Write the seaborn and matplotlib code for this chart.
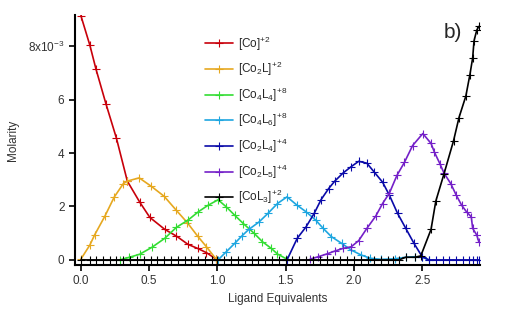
import numpy as np
import pandas as pd
import matplotlib
matplotlib.use("Agg")
import matplotlib.pyplot as plt
import seaborn as sns

# values (x = ligand equivalents, y = molarity in 1e-3 M)
co_x = [0.0, 0.066, 0.11, 0.183, 0.26, 0.34, 0.43, 0.505, 0.615, 0.70, 0.785, 0.855, 0.92, 0.99]
co_y = [9.14, 8.03, 7.15, 5.85, 4.56, 2.95, 2.17, 1.59, 1.14, 0.89, 0.58, 0.43, 0.27, 0.03]

co2l_x = [0.0, 0.066, 0.10, 0.176, 0.244, 0.31, 0.34, 0.427, 0.517, 0.61, 0.695, 0.78, 0.855, 0.92, 0.99]
co2l_y = [0.03, 0.56, 0.93, 1.64, 2.35, 2.85, 2.95, 3.07, 2.75, 2.38, 1.88, 1.39, 0.89, 0.49, 0.03]

co4l4_x = [0.285, 0.35, 0.43, 0.52, 0.615, 0.70, 0.785, 0.86, 0.93, 1.005, 1.066, 1.127, 1.19,
           1.27, 1.33, 1.395, 1.44, 1.505]
co4l4_y = [0.0, 0.09, 0.21, 0.47, 0.81, 1.22, 1.49, 1.80, 2.04, 2.25, 1.98, 1.67, 1.36,
           0.99, 0.68, 0.43, 0.22, 0.04]

co4l6_x = [1.005, 1.066, 1.127, 1.18, 1.23, 1.305, 1.37, 1.44, 1.51, 1.585, 1.65, 1.72, 1.775,
           1.835, 1.91, 1.98, 2.05, 2.12, 2.2, 2.3, 2.38, 2.45, 2.5, 2.55]
co4l6_y = [0.0, 0.31, 0.62, 0.9, 1.14, 1.42, 1.74, 2.11, 2.36, 2.04, 1.80, 1.49, 1.18,
           0.87, 0.62, 0.37, 0.19, 0.06, 0.02, 0.04, 0.1, 0.12, 0.1, 0.0]

co2l4_x = [1.51, 1.585, 1.65, 1.71, 1.76, 1.815, 1.86, 1.92, 1.98, 2.035, 2.095, 2.15, 2.21,
           2.26, 2.32, 2.38, 2.44, 2.5, 2.55, 2.6, 2.65, 2.7, 2.75, 2.8, 2.84, 2.87, 2.9, 2.92]
co2l4_y = [0.0, 0.81, 1.24, 1.75, 2.26, 2.67, 2.95, 3.25, 3.49, 3.69, 3.62, 3.28, 2.91,
           2.42, 1.74, 1.18, 0.62, 0.12, 0.0, 0.0, 0.0, 0.0, 0.0, 0.0, 0.0, 0.0, 0.0, 0.0]

co2l5_x = [1.68, 1.74, 1.80, 1.86, 1.92, 1.98, 2.035, 2.095, 2.16, 2.21, 2.26, 2.315, 2.37,
           2.43, 2.505, 2.565, 2.59, 2.63, 2.66, 2.71, 2.75, 2.79, 2.825, 2.86, 2.87, 2.90, 2.915]
co2l5_y = [0.03, 0.12, 0.22, 0.33, 0.43, 0.49, 0.72, 1.18, 1.64, 2.11, 2.50, 3.16, 3.65,
           4.28, 4.73, 4.36, 4.03, 3.6, 3.25, 2.85, 2.42, 2.04, 1.80, 1.61, 1.18, 0.93, 0.68]

col3_x = [0.0, 0.066, 0.11, 0.16, 0.21, 0.26, 0.31, 0.36, 0.41, 0.46, 0.51, 0.56, 0.61, 0.66,
          0.71, 0.76, 0.81, 0.86, 0.91, 0.96, 1.0, 1.05, 1.1, 1.15, 1.2, 1.25, 1.3, 1.35, 1.4,
          1.45, 1.5, 1.55, 1.6, 1.65, 1.7, 1.75, 1.8, 1.85, 1.9, 1.95, 2.0, 2.05, 2.1, 2.15,
          2.2, 2.25, 2.29, 2.33, 2.38, 2.45, 2.49, 2.565, 2.60, 2.66, 2.73, 2.77, 2.82, 2.85,
          2.87, 2.88, 2.9, 2.915]
col3_y = [0.0] * 48 + [0.1, 0.1, 0.15, 1.14, 2.2, 3.22, 4.46, 5.33, 6.13, 6.94,
                       7.56, 8.2, 8.6, 8.74]

labels = [r"[Co]$^{+2}$", r"[Co$_2$L]$^{+2}$", r"[Co$_4$L$_4$]$^{+8}$", r"[Co$_4$L$_6$]$^{+8}$",
          r"[Co$_2$L$_4$]$^{+4}$", r"[Co$_2$L$_5$]$^{+4}$", r"[CoL$_3$]$^{+2}$"]
colors = ["#c8000a", "#e6a820", "#33dd33", "#1ea6e0", "#0a0aa8", "#7420c8", "#000000"]

series = [(co_x, co_y), (co2l_x, co2l_y), (co4l4_x, co4l4_y), (co4l6_x, co4l6_y),
          (co2l4_x, co2l4_y), (co2l5_x, co2l5_y), (col3_x, col3_y)]

frames = []
for lab, (xs, ys) in zip(labels, series):
    frames.append(pd.DataFrame({"eq": xs, "M": np.array(ys) * 1e-3, "species": lab}))
df = pd.concat(frames, ignore_index=True)

sns.set_style("ticks")
plt.rcParams["font.family"] = ["Liberation Sans", "DejaVu Sans"]
plt.rcParams["mathtext.default"] = "regular"

fig = plt.figure(figsize=(5.13, 3.11), dpi=100)
ax = fig.add_axes([0.146, 0.148, 0.79, 0.804])

sns.lineplot(data=df, x="eq", y="M", hue="species", hue_order=labels,
             palette=dict(zip(labels, colors)), marker="+", markersize=6,
             markeredgewidth=0.8, linewidth=1.2, estimator=None, sort=False,
             ax=ax)
# seaborn gives the markers white edges; paint the "+" in the line colour
for ln in ax.lines:
    ln.set_markeredgecolor(ln.get_color())

ax.set_xlim(-0.044, 2.925)
ax.set_ylim(-0.19e-3, 9.17e-3)
ax.set_xticks([0, 0.5, 1.0, 1.5, 2.0, 2.5])
ax.set_xticklabels(["0.0", "0.5", "1.0", "1.5", "2.0", "2.5"])
ax.set_yticks([0, 2e-3, 4e-3, 6e-3, 8e-3])
ax.set_yticklabels(["0", "2", "4", "6", r"8x10$^{-3}$"])
ax.tick_params(labelsize=8.5, width=1.2, length=4, color="black", labelcolor="#333333")
for side in ["left", "bottom"]:
    ax.spines[side].set_linewidth(1.5)
    ax.spines[side].set_color("black")
ax.spines["top"].set_visible(False)
ax.spines["right"].set_visible(False)

ax.set_xlabel("Ligand Equivalents", fontsize=8.5, color="#333333")
ax.set_ylabel("Molarity", fontsize=8.5, color="#333333", labelpad=6)

leg = ax.legend(loc="upper left", bbox_to_anchor=(0.295, 0.965), frameon=False, fontsize=8.5,
                labelspacing=0.63, handlelength=2.4, handletextpad=0.35)
for h in leg.legend_handles:
    h.set_markeredgecolor(h.get_color())

ax.text(0.955, 0.93, "b)", transform=ax.transAxes, fontsize=15, ha="right", va="center")

fig.savefig("out.png", dpi=100)
